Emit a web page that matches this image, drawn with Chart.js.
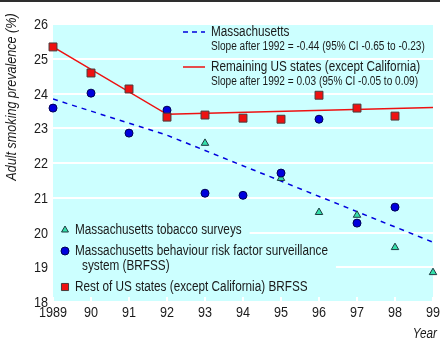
<!DOCTYPE html>
<html>
<head>
<meta charset="utf-8">
<title>Adult smoking prevalence</title>
<script src="https://cdn.jsdelivr.net/npm/chart.js@4.4.1/dist/chart.umd.min.js"></script>
<style>
  html, body { margin: 0; padding: 0; background: #fff; }
  #wrap { position: relative; width: 440px; height: 341px; }
</style>
</head>
<body>
<div id="wrap"><canvas id="chart" width="440" height="341"></canvas></div>
<script>
/* Smoking prevalence: Massachusetts vs rest of US (except California) */

const years = [1989, 1990, 1991, 1992, 1993, 1994, 1995, 1996, 1997, 1998];
const usBrfss = [25.34, 24.59, 24.13, 23.32, 23.38, 23.29, 23.26, 23.95, 23.58, 23.35];
const maBrfss = [23.58, 24.01, 22.86, 23.52, 21.13, 21.07, 21.71, 23.26, 20.27, 20.73];

const surveyYears = [1993, 1995, 1996, 1997, 1998, 1999];
const maSurvey = [22.57, 21.56, 20.58, 20.50, 19.57, 18.85];

// fitted trends, break at 1992
const trendYears = [1989, 1992, 1999];
const maTrend = [23.84, 22.80, 19.72];
const usTrend = [25.34, 23.40, 23.60];

const xTickLabels = ['1989', '90', '91', '92', '93', '94', '95', '96', '97', '98', '99'];
const yTicks = [18, 19, 20, 21, 22, 23, 24, 25, 26];

const trendKey = [
  { label: 'Massachusetts', note: 'Slope after 1992 = -0.44 (95% CI -0.65 to -0.23)' },
  { label: 'Remaining US states (except California)', note: 'Slope after 1992 = 0.03 (95% CI -0.05 to 0.09)' },
];
const pointKey = [
  ['Massachusetts tobacco surveys'],
  ['Massachusetts behaviour risk factor surveillance', 'system (BRFSS)'],
  ['Rest of US states (except California) BRFSS'],
];
const yTitle = 'Adult smoking prevalence (%)';
const xTitle = 'Year';

const FONT = "'Liberation Sans', Arial, sans-serif";
const NARROW = 0.84;   // squeeze text horizontally, narrow-face look
const PLOT_BG = '#ccffff';
const TXT = '#1a1a1a';
const RED = '#ee1111';
const BLUE = '#0000dd';
const MINT = '#33e0aa';

const toXY = (xs, ys) => xs.map((x, i) => ({ x, y: ys[i] }));

const styles = {
  survey: { pointStyle: 'triangle', radius: 4.3, fill: MINT, stroke: '#1d3a40' },
  maPts: { pointStyle: 'circle', radius: 4, fill: BLUE, stroke: '#000055' },
  usPts: { pointStyle: 'rect', radius: 5.6, fill: RED, stroke: '#4a3a3a' },
};

function text(ctx, s, x, y, font, align = 'left', rot = 0) {
  ctx.save();
  ctx.font = font;
  ctx.fillStyle = TXT;
  ctx.textBaseline = 'middle';
  ctx.textAlign = align;
  ctx.translate(x, y);
  if (rot) ctx.rotate(rot);
  ctx.scale(NARROW, 1);
  ctx.fillText(s, 0, 0);
  ctx.restore();
}

function textWidth(ctx, s, font) {
  ctx.save();
  ctx.font = font;
  const w = ctx.measureText(s).width * NARROW;
  ctx.restore();
  return w;
}

function keyMarker(ctx, st, x, y, r) {
  ctx.save();
  ctx.fillStyle = st.fill;
  ctx.strokeStyle = st.stroke;
  ctx.lineWidth = 1;
  Chart.helpers.drawPoint(ctx, { pointStyle: st.pointStyle, radius: r, rotation: 0, borderWidth: 1 }, x, y);
  ctx.restore();
}

const decor = {
  id: 'decor',
  beforeDraw(chart) {
    const { ctx, chartArea: a } = chart;
    ctx.save();
    ctx.fillStyle = '#2e2e2e';
    ctx.fillRect(0, 0, chart.width, 2);
    ctx.fillStyle = PLOT_BG;
    ctx.fillRect(a.left, a.top, a.right - a.left, a.bottom - a.top);
    ctx.restore();
  },
  beforeDatasetsDraw(chart) {
    const { ctx, chartArea: a, scales } = chart;
    ctx.save();
    // small year ticks along the bottom edge
    ctx.strokeStyle = '#fff';
    ctx.lineWidth = 2;
    scales.x.ticks.forEach(t => {
      const px = scales.x.getPixelForValue(t.value);
      ctx.beginPath();
      ctx.moveTo(px, a.bottom);
      ctx.lineTo(px, a.bottom - 5);
      ctx.stroke();
    });
    // plain backing behind the point key (hides grid lines there)
    const f = '14px ' + FONT;
    ctx.fillStyle = PLOT_BG;
    const boxes = [[a.top + 196, a.top + 217], [a.top + 217, a.top + 252], [a.top + 252, a.top + 273]];
    pointKey.forEach((lines, i) => {
      const w = Math.max(...lines.map((s, j) => textWidth(ctx, s, f) + (j ? 7 : 0)));
      ctx.fillRect(a.left, boxes[i][0], 22 + w + 8, boxes[i][1] - boxes[i][0]);
    });
    ctx.restore();
  },
  afterDraw(chart) {
    const { ctx, chartArea: a, scales } = chart;
    const f14 = '14px ' + FONT, f12 = '12px ' + FONT;

    // tick labels
    scales.y.ticks.forEach(t => text(ctx, String(t.value), a.left - 5, scales.y.getPixelForValue(t.value) + 1, '15px ' + FONT, 'right'));
    scales.x.ticks.forEach((t, i) => text(ctx, xTickLabels[i], scales.x.getPixelForValue(t.value), a.bottom + 11, '15px ' + FONT, 'center'));

    // trend key, top right
    const kx = a.left + 158;
    const rows = [a.top + 8, a.top + 43];
    trendKey.forEach((k, i) => {
      const y = rows[i];
      ctx.save();
      ctx.lineWidth = 1.5;
      if (i === 0) { ctx.strokeStyle = BLUE; ctx.setLineDash([5, 4]); }
      else { ctx.strokeStyle = RED; }
      ctx.beginPath();
      ctx.moveTo(kx - 28, y);
      ctx.lineTo(kx - 6, y);
      ctx.stroke();
      ctx.restore();
      text(ctx, k.label, kx, y, f14);
      text(ctx, k.note, kx, y + 15, f12);
    });

    // point key, bottom left
    const mx = a.left + 12, tx = a.left + 22;
    const st = [styles.survey, styles.maPts, styles.usPts];
    const ys = [a.top + 206, a.top + 227, a.top + 263];
    pointKey.forEach((lines, i) => {
      keyMarker(ctx, st[i], mx, ys[i], i === 2 ? 5 : 4);
      lines.forEach((s, j) => text(ctx, s, tx + (j ? 7 : 0), ys[i] + j * 15, f14));
    });

    // axis titles
    text(ctx, xTitle, chart.width - 3, chart.height - 7, 'italic 14px ' + FONT, 'right');
    text(ctx, yTitle, 12, 97, 'italic 15px ' + FONT, 'center', -Math.PI / 2);
  }
};

Chart.defaults.font.family = FONT;
Chart.defaults.color = TXT;

new Chart(document.getElementById('chart'), {
  type: 'scatter',
  data: {
    datasets: [
      {
        label: 'Rest of US states BRFSS', data: toXY(years, usBrfss), order: 0, clip: false,
        pointStyle: styles.usPts.pointStyle, pointRadius: styles.usPts.radius,
        backgroundColor: styles.usPts.fill, borderColor: styles.usPts.stroke, borderWidth: 1,
      },
      {
        label: 'Massachusetts BRFSS', data: toXY(years, maBrfss), order: 1, clip: false,
        pointStyle: styles.maPts.pointStyle, pointRadius: styles.maPts.radius,
        backgroundColor: styles.maPts.fill, borderColor: styles.maPts.stroke, borderWidth: 1,
      },
      {
        label: 'Massachusetts tobacco surveys', data: toXY(surveyYears, maSurvey), order: 2, clip: false,
        pointStyle: styles.survey.pointStyle, pointRadius: styles.survey.radius,
        backgroundColor: styles.survey.fill, borderColor: styles.survey.stroke, borderWidth: 1,
      },
      {
        label: 'Massachusetts trend', data: toXY(trendYears, maTrend), order: 3,
        showLine: true, pointRadius: 0, borderColor: BLUE, borderWidth: 1.5, borderDash: [5, 5],
      },
      {
        label: 'US trend', data: toXY(trendYears, usTrend), order: 4,
        showLine: true, pointRadius: 0, borderColor: RED, borderWidth: 1.5,
      },
    ]
  },
  options: {
    responsive: false,
    animation: false,
    layout: { padding: { top: 24, right: 7, left: 0, bottom: 0 } },
    plugins: { legend: { display: false }, tooltip: { enabled: false } },
    scales: {
      x: {
        type: 'linear', min: 1989, max: 1999,
        afterBuildTicks: s => { s.ticks = xTickLabels.map((_, i) => ({ value: 1989 + i })); },
        ticks: { display: false },
        grid: { display: false },
        border: { display: false },
        afterFit: s => { s.height = 39; },
      },
      y: {
        min: 18, max: 26,
        afterBuildTicks: s => { s.ticks = yTicks.map(v => ({ value: v })); },
        ticks: { display: false },
        grid: { color: '#ffffff', lineWidth: 2, drawTicks: false },
        border: { display: false },
        afterFit: s => { s.width = 53; },
      }
    }
  },
  plugins: [decor]
});
</script>
</body>
</html>
